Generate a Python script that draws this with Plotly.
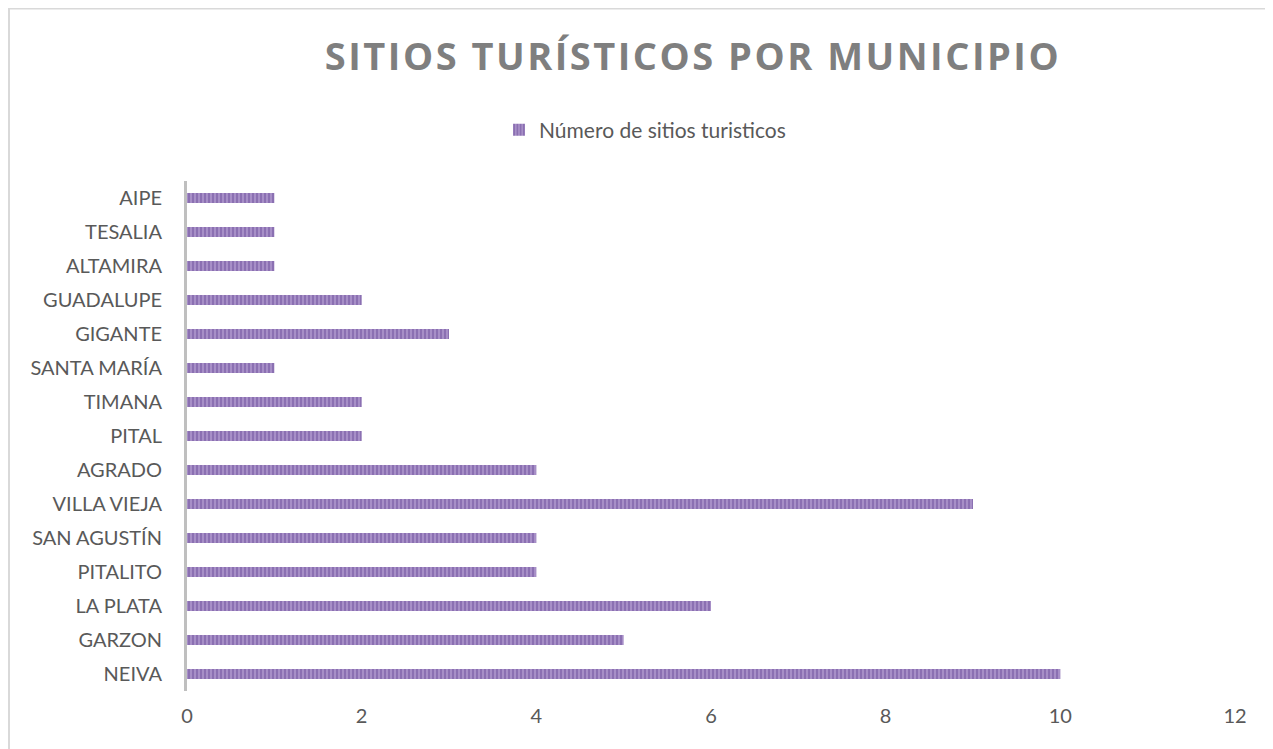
import plotly.graph_objects as go

municipios = ["NEIVA", "GARZON", "LA PLATA", "PITALITO", "SAN AGUSTÍN", "VILLA VIEJA",
              "AGRADO", "PITAL", "TIMANA", "SANTA MARÍA", "GIGANTE", "GUADALUPE",
              "ALTAMIRA", "TESALIA", "AIPE"]
sitios = [10, 5, 6, 4, 4, 9, 4, 2, 2, 1, 3, 2, 1, 1, 1]
x_ticks = [0, 2, 4, 6, 8, 10, 12]

W, H = 1273, 749
OFF = 8  # page offset of the rendered figure
L, R, T, B = 187 - OFF, 38 + OFF, 181 - OFF, 58 + OFF
pw, ph = W - L - R, H - T - B

def px_x(p):
    return (p - L) / pw

def px_y(p):
    return (H - B - p) / ph

fig = go.Figure()
fig.add_trace(go.Bar(
    y=municipios, x=sitios, orientation="h", width=0.3,
    name="Número de sitios turisticos",
    marker=dict(color="#A68DC6", line=dict(width=0),
                pattern=dict(shape="|", fgcolor="#6C4E9C", bgcolor="#AA92C9",
                             size=4, solidity=0.55, fillmode="overlay")),
))

fig.update_layout(
    width=W, height=H,
    margin=dict(l=L, r=R, t=T, b=B),
    paper_bgcolor="white", plot_bgcolor="white",
    font=dict(family="Lato, Open Sans, sans-serif", color="#595959", size=20),
    title=dict(text='<span style="letter-spacing:2.5px"><b>SITIOS TURÍSTICOS POR MUNICIPIO</b></span>',
               x=(693 - OFF) / W, xref="container", xanchor="center",
               y=1 - (57 - OFF) / H, yanchor="middle",
               font=dict(family="Open Sans, sans-serif", size=38, color="#7F7F7F")),
    showlegend=True,
    legend=dict(orientation="h", x=(645 - OFF) / W, xanchor="center", xref="container",
                y=1 - (130 - OFF) / H, yref="container", yanchor="middle",
                font=dict(size=21, color="#595959")),
    xaxis=dict(range=[0, 12], tickvals=x_ticks, showgrid=False, zeroline=False,
               showline=False, ticks="", tickfont=dict(size=20),
               ticklabelstandoff=11),
    yaxis=dict(categoryorder="array", categoryarray=municipios, showgrid=False,
               showline=True, linecolor="#BFBFBF", linewidth=3, ticks="",
               ticklabelstandoff=18, tickfont=dict(size=20),
               range=[-0.5, 14.5]),
    bargap=0.7,
    shapes=[dict(type="rect", xref="paper", yref="paper",
                 x0=px_x(1), x1=px_x(W + 10), y0=px_y(H + 10), y1=px_y(0.5),
                 line=dict(color="#D9D9D9", width=2), fillcolor="rgba(0,0,0,0)",
                 layer="below")],
)

fig.write_html("out.html")
